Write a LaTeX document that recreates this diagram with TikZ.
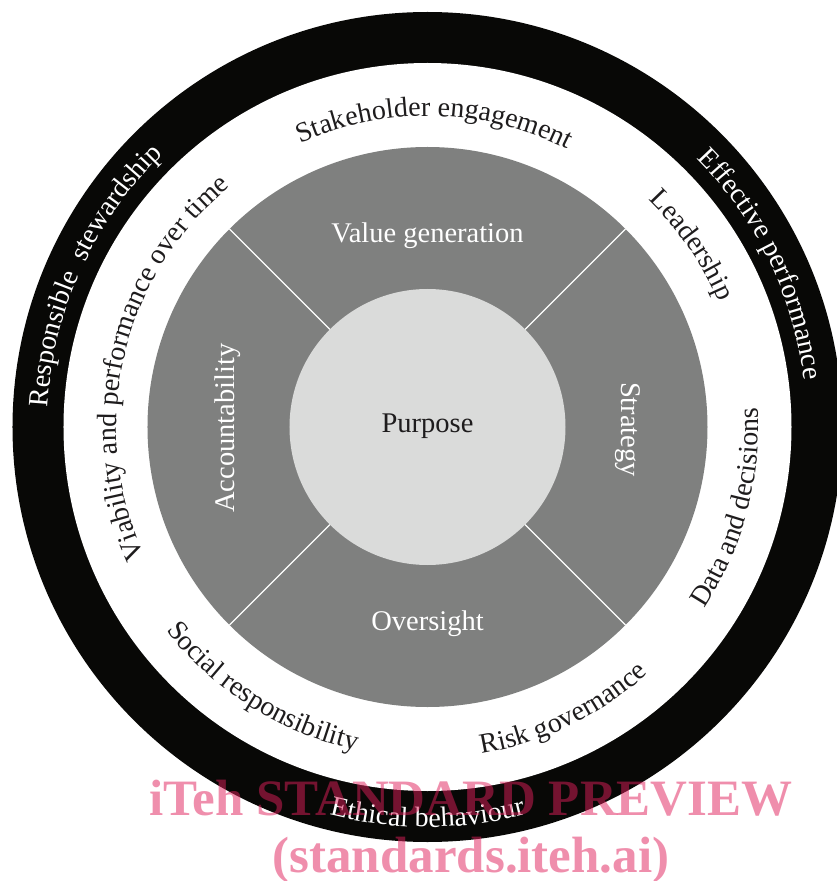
\documentclass[tikz,border=0pt]{standalone}
\usepackage{fontspec}
\setmainfont{Liberation Serif}
\usetikzlibrary{decorations.text}
\definecolor{ringblack}{RGB}{8,8,6}
\definecolor{segrey}{RGB}{127,128,127}
\definecolor{corelight}{RGB}{218,219,218}
\definecolor{txtdark}{RGB}{30,28,29}
\definecolor{wmpink}{RGB}{224,30,90}
\newcommand\ringlabel[5]{%
  \path[decorate,decoration={text along path,text align=center,
    text={|\color{#4}\fontsize{28}{30}\selectfont|#5}}]
    (#2:#1) arc[start angle=#2,end angle=#3,radius=#1];}
\begin{document}
\begin{tikzpicture}[x=1pt,y=1pt,
  inlabel/.style={font=\fontsize{28.5}{30}\selectfont,inner sep=0pt,anchor=base},
  wmark/.style={font=\fontsize{51}{53}\selectfont\bfseries,text=wmpink,text opacity=0.5,inner sep=0pt,anchor=base}]
\useasboundingbox (-427.5,-454) rectangle (409.5,427);
\fill[ringblack] (0,0) circle[radius=415];
\fill[white] (0,0) circle[radius=364];
\fill[segrey] (0,0) circle[radius=280];
\foreach \a in {45,135,225,315}
  \draw[white,line width=1.3pt] (\a:138) -- (\a:280);
\fill[corelight] (0,0) circle[radius=138];
% inner labels
\node[inlabel,text=txtdark] (purpose) at (0,-5) {Purpose};
\node[inlabel,text=white] (value) at (0,184) {Value generation};
\node[inlabel,text=white] (oversight) at (0,-203) {Oversight};
\node[inlabel,text=white,rotate=90] (account) at (-193,-1) {Accountability};
\node[inlabel,text=white,rotate=-90] (strategy) at (194,-2.5) {Strategy};
% white ring labels (clockwise, tops outward)
\ringlabel{311}{148.7}{28.7}{txtdark}{Stakeholder engagement}
\ringlabel{317}{64.5}{4.5}{txtdark}{Leadership}
\ringlabel{311}{217}{117}{txtdark}{Viability and performance over time}
% white ring labels (counter-clockwise, tops inward)
\ringlabel{331}{-45}{15}{txtdark}{Data and decisions}
\ringlabel{331}{-94.4}{-34.4}{txtdark}{Risk governance}
\ringlabel{331}{207.7}{267.7}{txtdark}{Social responsibility}
% black ring labels
\ringlabel{380}{56}{-4}{white}{Effective performance}
\ringlabel{380}{185.6}{125.6}{white}{Responsible {\ }stewardship}
\ringlabel{400}{240}{300}{white}{Ethical behaviour}
% watermark
\node[wmark] (wm1) at (43.5,-388) {iTeh STANDARD PREVIEW};
\node[wmark] (wm2) at (43.5,-445) {(standards.iteh.ai)};
\end{tikzpicture}
\end{document}
